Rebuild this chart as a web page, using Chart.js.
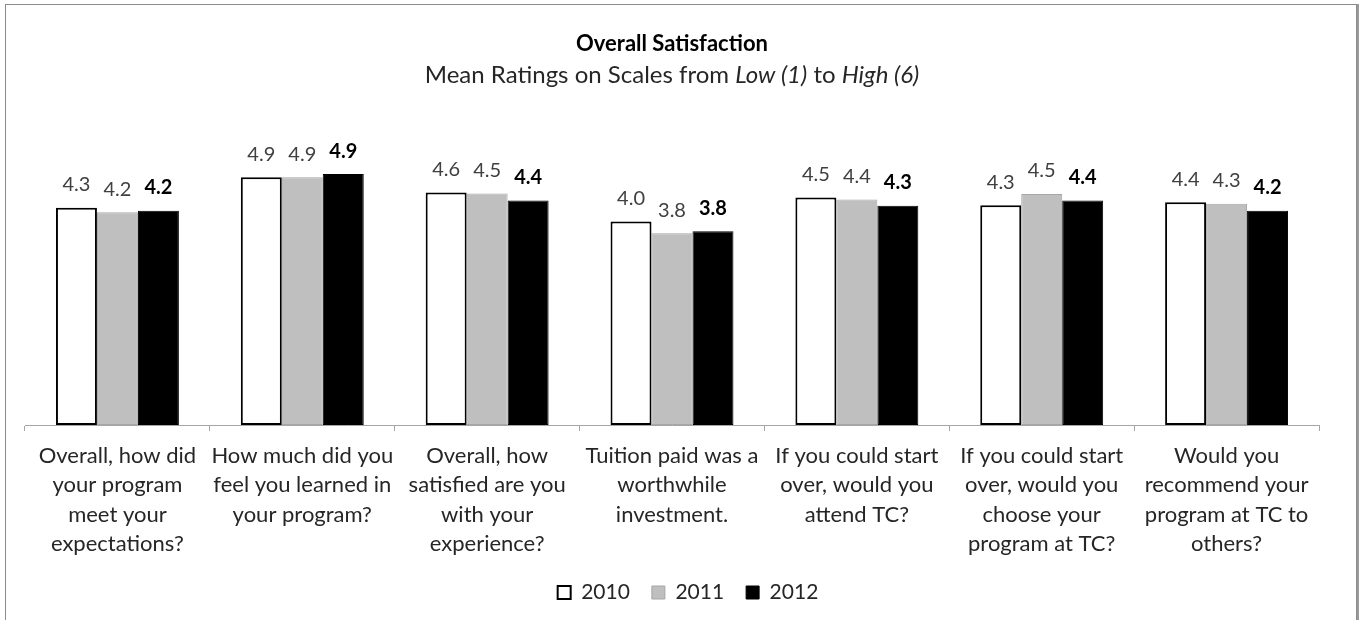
<!DOCTYPE html>
<html>
<head>
<meta charset="utf-8">
<script src="https://cdn.jsdelivr.net/npm/chart.js@4.4.1/dist/chart.umd.min.js"></script>
<style>
  html, body { margin: 0; padding: 0; background: #fff; overflow: hidden; }
  .frame { position: absolute; left: 5px; top: 4px; width: 1350px; height: 660px; border: 1px solid #8c8c8c; box-shadow: 2px 0 0 #9a9a9a; }
  .wrap { position: absolute; left: 0; top: 0; width: 1365px; height: 613px; }
</style>
</head>
<body>
<div class="frame"></div>
<div class="wrap"><canvas id="myChart"></canvas></div>
<script>
const categories = [
    ["Overall, how did", "your program", "meet your", "expectations?"],
    ["How much did you", "feel you learned in", "your program?"],
    ["Overall, how", "satisfied are you", "with your", "experience?"],
    ["Tuition paid was a", "worthwhile", "investment."],
    ["If you could start", "over, would you", "attend TC?"],
    ["If you could start", "over, would you", "choose your", "program at TC?"],
    ["Would you", "recommend your", "program at TC to", "others?"],
];
const years = ["2010", "2011", "2012"];
const values2010 = [4.26, 4.86, 4.56, 3.99, 4.46, 4.31, 4.37];
const values2011 = [4.17, 4.86, 4.54, 3.76, 4.42, 4.53, 4.34];
const values2012 = [4.20, 4.92, 4.40, 3.80, 4.30, 4.40, 4.20];

const fontName = "Lato";

// title + subtitle with italic parts
const titlePlugin = {
    id: "titles",
    afterLayout(chart) {
        // legend sits a little right of centre in the original
        if (chart.legend) {
            chart.legend.left += 16;
            chart.legend.right += 16;
        }
    },
    afterDraw(chart) {
        const ctx = chart.ctx;
        const cx = (chart.chartArea.left + chart.chartArea.right) / 2;
        ctx.save();
        ctx.fillStyle = "#000";
        ctx.textAlign = "center";
        ctx.textBaseline = "middle";
        ctx.font = "bold 22px " + fontName;
        ctx.fillText("Overall Satisfaction", cx, 44);

        const parts = [
            ["Mean Ratings on Scales from ", ""],
            ["Low (1)", "italic "],
            [" to ", ""],
            ["High (6)", "italic "],
        ];
        let total = 0;
        parts.forEach((p) => {
            ctx.font = p[1] + "24px " + fontName;
            total += ctx.measureText(p[0]).width;
        });
        let x = cx - total / 2;
        ctx.textAlign = "left";
        ctx.fillStyle = "#262626";
        parts.forEach((p) => {
            ctx.font = p[1] + "24px " + fontName;
            ctx.fillText(p[0], x, 75);
            x += ctx.measureText(p[0]).width;
        });
        ctx.restore();
    },
};

// value labels above bars
const valuePlugin = {
    id: "values",
    afterDatasetsDraw(chart) {
        const ctx = chart.ctx;
        ctx.save();
        ctx.textAlign = "center";
        ctx.textBaseline = "middle";
        chart.data.datasets.forEach((ds, i) => {
            const meta = chart.getDatasetMeta(i);
            const bold = i === 2;
            ctx.font = (bold ? "bold " : "") + "20px " + fontName;
            ctx.fillStyle = bold ? "#000" : "#404040";
            meta.data.forEach((bar, j) => {
                ctx.fillText(ds.data[j].toFixed(1), bar.x, bar.y - 23);
            });
        });
        ctx.restore();
    },
};

const ctx = document.getElementById("myChart").getContext("2d");
new Chart(ctx, {
    type: "bar",
    data: {
        labels: categories,
        datasets: [
            { label: years[0], data: values2010, backgroundColor: "#ffffff", borderColor: "#000000", borderWidth: 2, borderSkipped: false },
            { label: years[1], data: values2011, backgroundColor: "#bfbfbf", borderColor: "#a6a6a6", borderWidth: 1, borderSkipped: false },
            { label: years[2], data: values2012, backgroundColor: "#000000", borderColor: "#000000", borderWidth: 1, borderSkipped: false },
        ],
    },
    options: {
        responsive: true,
        maintainAspectRatio: false,
        animation: false,
        categoryPercentage: 0.665,
        barPercentage: 1.0,
        layout: { padding: { top: 119, left: 25, right: 46, bottom: 0 } },
        plugins: {
            title: { display: false },
            tooltip: { enabled: false },
            legend: {
                position: "bottom",
                labels: {
                    boxWidth: 13,
                    boxHeight: 13,
                    padding: 22,
                    color: "#262626",
                    font: { family: fontName, size: 21 },
                },
            },
        },
        scales: {
            y: { display: false, min: 0, max: 6 },
            x: {
                afterFit: (scale) => { scale.height = 135; },
                grid: { drawOnChartArea: false, tickLength: 6, color: "#a6a6a6", offset: true },
                border: { color: "#a6a6a6", width: 1 },
                ticks: {
                    autoSkip: false,
                    maxRotation: 0,
                    padding: 10,
                    color: "#262626",
                    font: { family: fontName, size: 22, lineHeight: 1.34 },
                },
            },
        },
    },
    plugins: [titlePlugin, valuePlugin],
});
</script>
</body>
</html>
